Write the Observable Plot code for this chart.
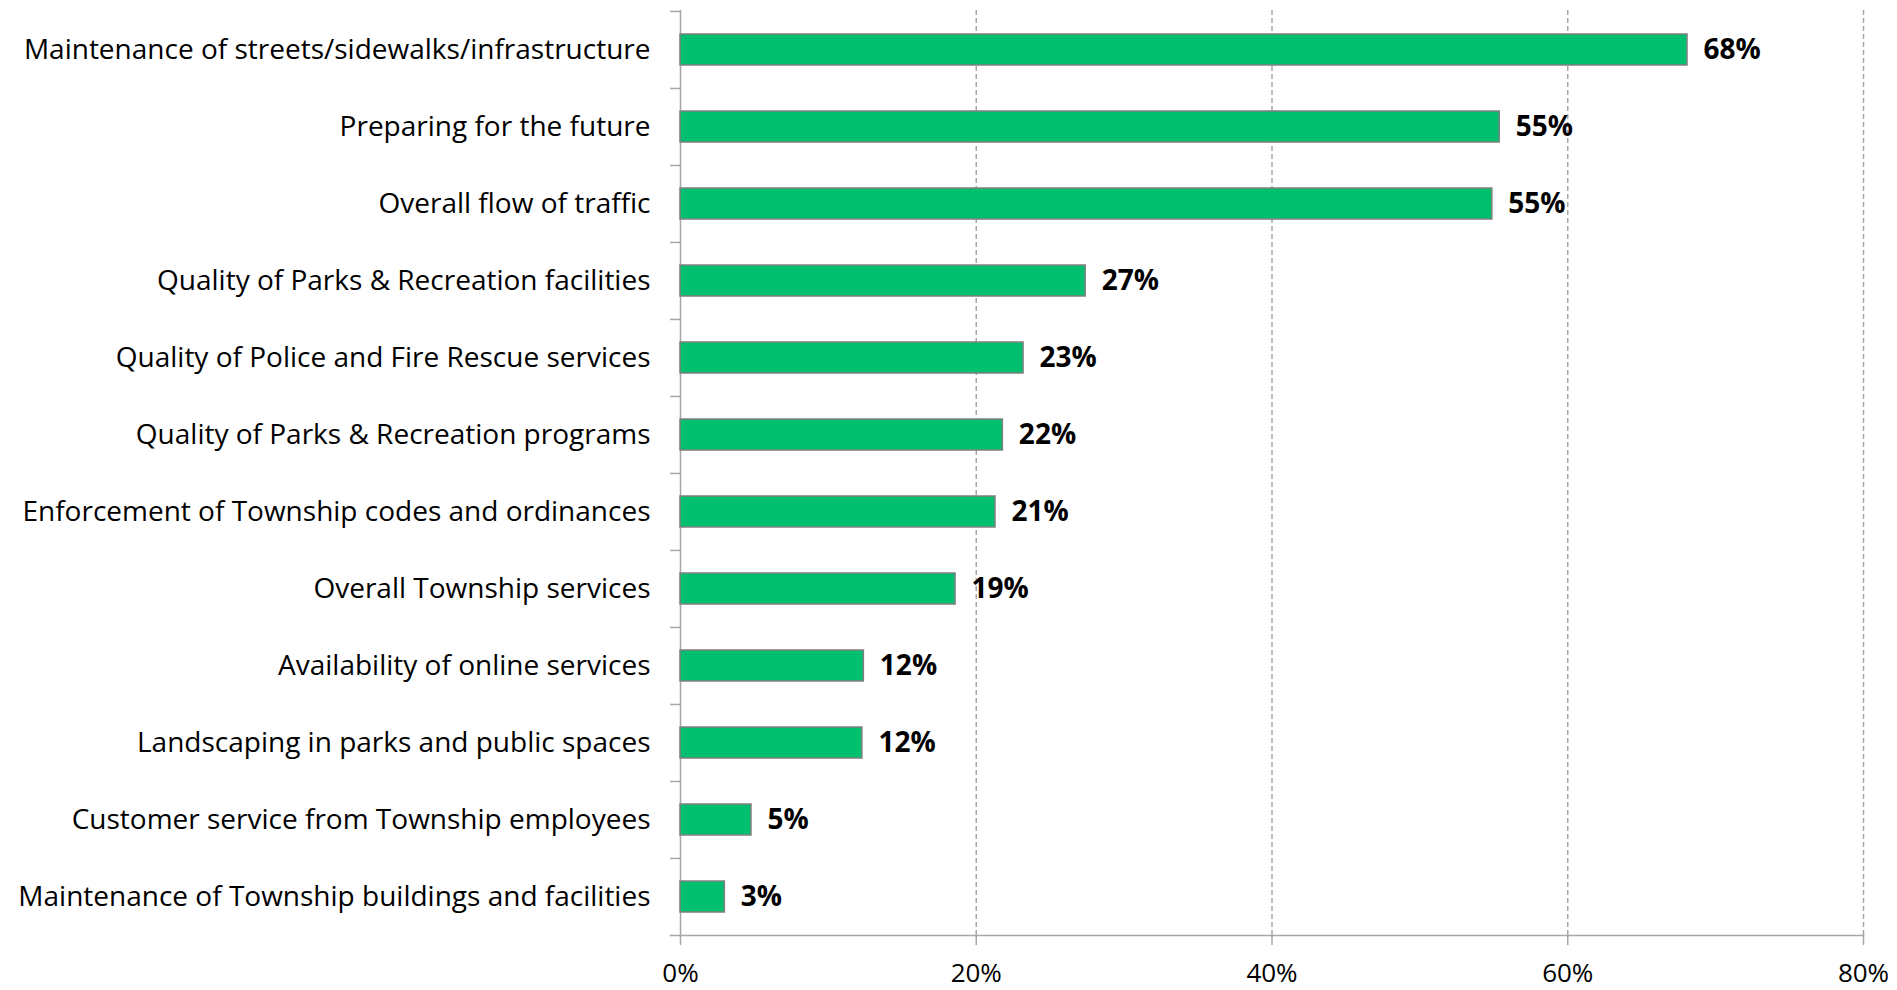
<!DOCTYPE html>
<html>
<head>
<meta charset="utf-8">
<script src="https://cdn.jsdelivr.net/npm/d3@7"></script>
<script src="https://cdn.jsdelivr.net/npm/@observablehq/plot@0.6"></script>
<style>
  html, body { margin: 0; padding: 0; background: #fff; overflow: hidden; }
  svg { display: block; }
</style>
</head>
<body>
<div id="chart"></div>
<script>
const categories = [
  "Maintenance of streets/sidewalks/infrastructure",
  "Preparing for the future",
  "Overall flow of traffic",
  "Quality of Parks & Recreation facilities",
  "Quality of Police and Fire Rescue services",
  "Quality of Parks & Recreation programs",
  "Enforcement of Township codes and ordinances",
  "Overall Township services",
  "Availability of online services",
  "Landscaping in parks and public spaces",
  "Customer service from Township employees",
  "Maintenance of Township buildings and facilities"
];
const values = [68.1, 55.4, 54.9, 27.4, 23.2, 21.8, 21.3, 18.6, 12.4, 12.3, 4.8, 3.0];
const valueLabels = ["68%", "55%", "55%", "27%", "23%", "22%", "21%", "19%", "12%", "12%", "5%", "3%"];
const xTicks = [0, 20, 40, 60, 80];

const data = categories.map((c, i) => ({category: c, value: values[i], label: valueLabels[i]}));

const W = 1897, H = 990, mt = 10, mb = 55, ml = 680, mr = 34;
const step = (H - mt - mb) / categories.length;
const axisColor = "#a6a6a6";
const font = "'Open Sans', sans-serif";
const fs = 28;

const chart = Plot.plot({
  width: W, height: H,
  marginTop: mt, marginBottom: mb, marginLeft: ml, marginRight: mr,
  style: {fontFamily: font, fontSize: fs + "px", color: "#000", background: "#fff"},
  x: {domain: [0, 80]},
  y: {domain: categories, paddingInner: 0.6, paddingOuter: 0.3},
  marks: [
    Plot.ruleX(xTicks.slice(1), {stroke: axisColor, strokeWidth: 1.5, strokeDasharray: "5,3"}),
    Plot.ruleX([0], {stroke: axisColor, strokeWidth: 1.5}),
    Plot.frame({anchor: "bottom", stroke: axisColor, strokeWidth: 1.5, insetLeft: -10}),
    Plot.barX(data, {x: "value", y: "category", fill: "#00BF6F", stroke: "#808080", strokeWidth: 1.5}),
    Plot.text(data, {x: "value", y: "category", text: "label", textAnchor: "start", dx: 16, fontWeight: "bold", fontSize: fs, fill: "#000"}),
    Plot.axisY({tickSize: 0, tickPadding: 30, fontSize: fs, label: null, fill: "#000"}),
    Plot.axisY({tickSize: 10, dy: -step / 2, tickFormat: () => "", label: null, stroke: axisColor, strokeWidth: 1.5}),
    Plot.axisX({ticks: xTicks, tickFormat: d => d + "%", tickSize: 10, tickPadding: 18, fontSize: 26, label: null, stroke: axisColor, strokeWidth: 1.5, fill: "#000"})
  ]
});
document.getElementById("chart").appendChild(chart);
</script>
</body>
</html>
